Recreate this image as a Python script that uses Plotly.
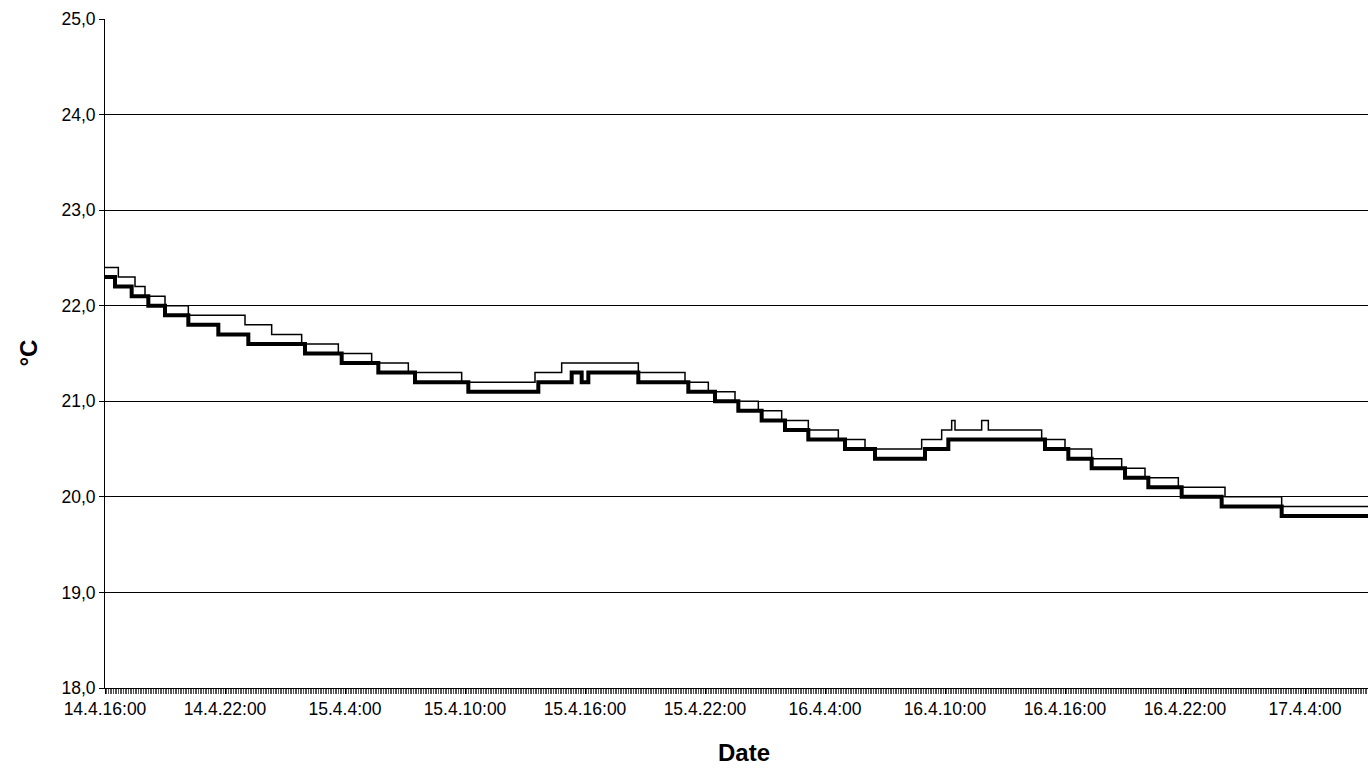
import plotly.graph_objects as go

# Upper (thin) series: change points (time, °C), step-held until next point
thin_times = [
    "2009-04-14 16:00", "2009-04-14 16:40", "2009-04-14 17:30", "2009-04-14 18:00",
    "2009-04-14 19:00", "2009-04-14 20:10", "2009-04-14 23:00", "2009-04-15 00:20",
    "2009-04-15 01:50", "2009-04-15 03:40", "2009-04-15 05:20", "2009-04-15 07:10",
    "2009-04-15 09:50", "2009-04-15 13:30", "2009-04-15 14:50", "2009-04-15 18:40",
    "2009-04-15 21:00", "2009-04-15 22:10", "2009-04-15 23:30", "2009-04-16 00:40",
    "2009-04-16 01:50", "2009-04-16 03:10", "2009-04-16 04:40", "2009-04-16 06:00",
    "2009-04-16 08:50", "2009-04-16 09:50", "2009-04-16 10:20", "2009-04-16 10:30",
    "2009-04-16 11:50", "2009-04-16 12:10", "2009-04-16 14:50", "2009-04-16 16:00",
    "2009-04-16 17:20", "2009-04-16 18:50", "2009-04-16 20:00", "2009-04-16 21:40",
    "2009-04-17 00:00", "2009-04-17 02:50", "2009-04-17 07:20",
]
thin_values = [
    22.4, 22.3, 22.2, 22.1,
    22.0, 21.9, 21.8, 21.7,
    21.6, 21.5, 21.4, 21.3,
    21.2, 21.3, 21.4, 21.3,
    21.2, 21.1, 21.0, 20.9,
    20.8, 20.7, 20.6, 20.5,
    20.6, 20.7, 20.8, 20.7,
    20.8, 20.7, 20.6, 20.5,
    20.4, 20.3, 20.2, 20.1,
    20.0, 19.9, 19.9,
]

# Lower (thick) series
thick_times = [
    "2009-04-14 16:00", "2009-04-14 16:30", "2009-04-14 17:20", "2009-04-14 18:10",
    "2009-04-14 19:00", "2009-04-14 20:10", "2009-04-14 21:40", "2009-04-14 23:10",
    "2009-04-15 02:00", "2009-04-15 03:50", "2009-04-15 05:40", "2009-04-15 07:30",
    "2009-04-15 10:10", "2009-04-15 13:40", "2009-04-15 15:20", "2009-04-15 15:50",
    "2009-04-15 16:10", "2009-04-15 18:40", "2009-04-15 21:10", "2009-04-15 22:30",
    "2009-04-15 23:40", "2009-04-16 00:50", "2009-04-16 02:00", "2009-04-16 03:10",
    "2009-04-16 05:00", "2009-04-16 06:30", "2009-04-16 09:00", "2009-04-16 10:10",
    "2009-04-16 15:00", "2009-04-16 16:10", "2009-04-16 17:20", "2009-04-16 19:00",
    "2009-04-16 20:10", "2009-04-16 21:50", "2009-04-16 23:50", "2009-04-17 02:50",
    "2009-04-17 07:20",
]
thick_values = [
    22.3, 22.2, 22.1, 22.0,
    21.9, 21.8, 21.7, 21.6,
    21.5, 21.4, 21.3, 21.2,
    21.1, 21.2, 21.3, 21.2,
    21.3, 21.2, 21.1, 21.0,
    20.9, 20.8, 20.7, 20.6,
    20.5, 20.4, 20.5, 20.6,
    20.5, 20.4, 20.3, 20.2,
    20.1, 20.0, 19.9, 19.8,
    19.8,
]

tick_vals = [
    "2009-04-14 16:00", "2009-04-14 22:00", "2009-04-15 04:00", "2009-04-15 10:00",
    "2009-04-15 16:00", "2009-04-15 22:00", "2009-04-16 04:00", "2009-04-16 10:00",
    "2009-04-16 16:00", "2009-04-16 22:00", "2009-04-17 04:00",
]
tick_text = [
    "14.4.16:00", "14.4.22:00", "15.4.4:00", "15.4.10:00", "15.4.16:00",
    "15.4.22:00", "16.4.4:00", "16.4.10:00", "16.4.16:00", "16.4.22:00", "17.4.4:00",
]
y_ticks = [18, 19, 20, 21, 22, 23, 24, 25]

FONT = "Liberation Sans, Arial, sans-serif"

fig = go.Figure()
fig.add_trace(go.Scatter(x=thin_times, y=thin_values, mode="lines",
                         line=dict(shape="hv", color="black", width=1.5),
                         showlegend=False))
fig.add_trace(go.Scatter(x=thick_times, y=thick_values, mode="lines",
                         line=dict(shape="hv", color="black", width=4),
                         showlegend=False))

fig.update_layout(
    width=1368, height=768,
    margin=dict(l=105, r=0, t=19, b=80),
    paper_bgcolor="white", plot_bgcolor="white",
    font=dict(family=FONT, color="black", size=17.5),
    separators=",.",
    showlegend=False,
    annotations=[
        dict(text="<b>Date</b>", xref="paper", yref="paper", x=0.506, y=0,
             yshift=-64, showarrow=False, xanchor="center", yanchor="middle",
             font=dict(family=FONT, size=24, color="black")),
        dict(text="<b>°C</b>", xref="paper", yref="paper", x=0, y=0.5,
             xshift=-77, showarrow=False, xanchor="center", yanchor="middle",
             textangle=-90, font=dict(family=FONT, size=24, color="black")),
    ],
)
fig.update_xaxes(
    type="date",
    range=["2009-04-14 16:00", "2009-04-17 07:09"],
    tickmode="array", tickvals=tick_vals, ticktext=tick_text,
    ticks="outside", ticklen=5, tickcolor="black", tickwidth=1,
    minor=dict(tickmode="linear", tick0="2009-04-14 16:00", dtick=300000,
               ticks="outside", ticklen=5, tickcolor="#555555", tickwidth=1,
               showgrid=False),
    showline=True, linecolor="black", linewidth=1,
    showgrid=False, zeroline=False,
    tickfont=dict(family=FONT, size=17.5, color="black"),
)
fig.update_yaxes(
    range=[18, 25], tickmode="array", tickvals=y_ticks, tickformat=".1f",
    ticks="outside", ticklen=5, tickcolor="black", tickwidth=1,
    showline=True, linecolor="black", linewidth=1,
    showgrid=True, gridcolor="black", gridwidth=1, zeroline=False,
    tickfont=dict(family=FONT, size=17.5, color="black"),
)

fig.write_html("out.html",
               config={"displayModeBar": False},
               post_script="document.body.style.margin='0';document.body.style.overflow='hidden';")
